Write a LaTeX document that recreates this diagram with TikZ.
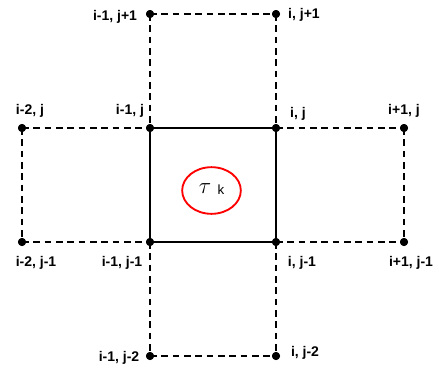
\documentclass[tikz,border=0pt]{standalone}
\usepackage{fontspec}
\setmainfont{Liberation Sans}
\usetikzlibrary{shapes.geometric}
\begin{document}
\begin{tikzpicture}[x=0.75pt,y=-0.75pt,
  dot/.style={circle,fill=black,inner sep=0pt,minimum size=6pt},
  lbl/.style={font=\fontsize{10.5}{12}\selectfont\bfseries,inner sep=0pt},
  dline/.style={line width=1.6pt,dash pattern=on 5pt off 3.5pt},
  sline/.style={line width=1.7pt}]
\useasboundingbox (0,0) rectangle (439,372);
% points
\node[dot] (a1) at (150,14) {};
\node[dot] (a2) at (276,14) {};
\node[dot] (b0) at (22,128) {};
\node[dot] (b1) at (150,128) {};
\node[dot] (b2) at (276,128) {};
\node[dot] (b3) at (404,128) {};
\node[dot] (c0) at (22,242) {};
\node[dot] (c1) at (150,242) {};
\node[dot] (c2) at (276,242) {};
\node[dot] (c3) at (404,242) {};
\node[dot] (d1) at (150,356) {};
\node[dot] (d2) at (276,356) {};
% dashed grid
\draw[dline] (a1.center) -- (a2.center);
\draw[dline] (a1.center) -- (b1.center);
\draw[dline] (a2.center) -- (b2.center);
\draw[dline] (b0.center) -- (b1.center);
\draw[dline] (b2.center) -- (b3.center);
\draw[dline] (b0.center) -- (c0.center);
\draw[dline] (b3.center) -- (c3.center);
\draw[dline] (c0.center) -- (c1.center);
\draw[dline] (c2.center) -- (c3.center);
\draw[dline] (c1.center) -- (d1.center);
\draw[dline] (c2.center) -- (d2.center);
\draw[dline] (d1.center) -- (d2.center);
% solid cell
\draw[sline] (b1.center) -- (b2.center) -- (c2.center) -- (c1.center) -- cycle;
% redraw dots on top
\foreach \n in {a1,a2,b0,b1,b2,b3,c0,c1,c2,c3,d1,d2} \fill (\n) circle (3pt);
% ellipse and tau
\node[draw=red,line width=1.4pt,ellipse,inner sep=0pt,
      minimum width=44pt,minimum height=35pt] (el) at (211.5,190.5) {};
\node[inner sep=0pt] (tau) at (205,189) {\fontsize{17}{17}\selectfont$\tau$};
\node[inner sep=0pt,font=\fontsize{10}{11}\selectfont] (k) at (221,190) {k};
% labels
\node[lbl] (la1) at (115,17) {i-1, j+1};
\node[lbl] (la2) at (304,15) {i, j+1};
\node[lbl] (lb0) at (30,111) {i-2, j};
\node[lbl] (lb1) at (130,111) {i-1, j};
\node[lbl] (lb2) at (298,114) {i, j};
\node[lbl] (lb3) at (404,111) {i+1, j};
\node[lbl] (lc0) at (36,263) {i-2, j-1};
\node[lbl] (lc1) at (122,263) {i-1, j-1};
\node[lbl] (lc2) at (302,263) {i, j-1};
\node[lbl] (lc3) at (411,263) {i+1, j-1};
\node[lbl] (ld1) at (119,358) {i-1, j-2};
\node[lbl] (ld2) at (305,353) {i, j-2};
\end{tikzpicture}
\end{document}
